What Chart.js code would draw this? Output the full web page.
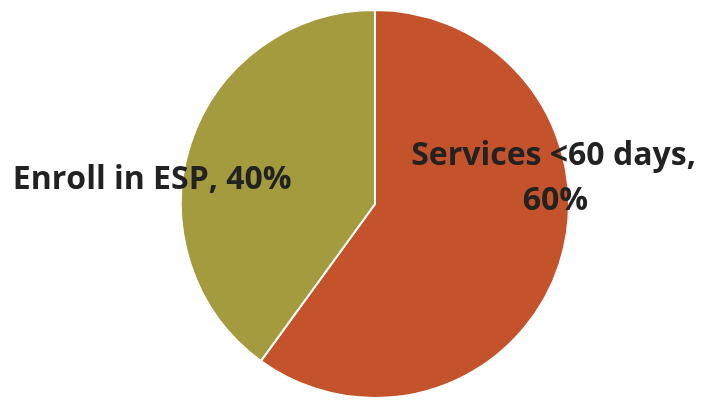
<!DOCTYPE html>
<html>
<head>
<meta charset="utf-8">
<script src="https://cdn.jsdelivr.net/npm/chart.js@4"></script>
<style>
  html, body { margin: 0; padding: 0; background: #fff; }
  #wrap { width: 709px; height: 400px; }
</style>
</head>
<body>
<div id="wrap"><canvas id="pieChart" width="709" height="400"></canvas></div>
<script>
const categories = ["Services <60 days", "Enroll in ESP"];
const shares = [60, 40];
const sliceColors = ["#C4532B", "#A39B3D"];

// labels drawn next to the slices, like the original
const sliceLabels = {
    id: "sliceLabels",
    afterDatasetsDraw(chart) {
        const ctx = chart.ctx;
        const arcs = chart.getDatasetMeta(0).data;
        const cx = arcs[0].x, cy = arcs[0].y, r = arcs[0].outerRadius;
        ctx.save();
        ctx.fillStyle = "#222222";
        ctx.font = "bold 32px 'Open Sans', sans-serif";
        ctx.textBaseline = "alphabetic";

        // right slice
        ctx.textAlign = "center";
        ctx.fillText(categories[0] + ",", cx + r * 0.92, cy - r * 0.2);
        ctx.fillText(shares[0] + "%", cx + r * 0.93, cy + r * 0.03);

        // left slice
        ctx.textAlign = "right";
        ctx.fillText(categories[1] + ", " + shares[1] + "%", cx - r * 0.43, cy - r * 0.077);
        ctx.restore();
    },
};

new Chart(document.getElementById("pieChart").getContext("2d"), {
    type: "pie",
    data: {
        labels: categories,
        datasets: [
            {
                data: shares,
                backgroundColor: sliceColors,
                borderColor: "#ffffff",
                borderWidth: 2,
            },
        ],
    },
    options: {
        responsive: false,
        animation: false,
        layout: {
            padding: { left: 180, right: 139, top: 9, bottom: 1 },
        },
        plugins: {
            legend: { display: false },
            tooltip: { enabled: false },
        },
    },
    plugins: [sliceLabels],
});
</script>
</body>
</html>
